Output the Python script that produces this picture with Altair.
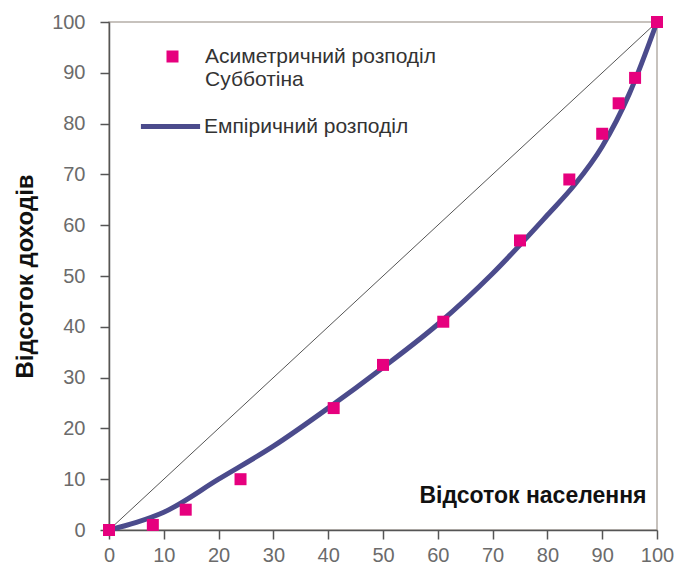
import altair as alt
import pandas as pd

# Asymmetric Subbotin distribution (points)
sub_x = [0, 8, 14, 24, 41, 50, 61, 75, 84, 90, 93, 96, 100]
sub_y = [0, 1, 4, 10, 24, 32.5, 41, 57, 69, 78, 84, 89, 100]

# Empirical distribution (line)
emp_x = [0, 5, 10, 20, 30, 40, 50, 60, 70, 80, 85, 90, 95, 100]
emp_y = [0, 1.5, 3.5, 10, 16.5, 24, 32, 40.5, 50.5, 62, 68, 75.5, 86, 100]

# Equality diagonal
diag_x = [0, 100]
diag_y = [0, 100]

ticks = [0, 10, 20, 30, 40, 50, 60, 70, 80, 90, 100]

S1 = "Асиметричний розподіл Субботіна"
S2 = "Емпіричний розподіл"

pts = pd.DataFrame({"x": sub_x, "y": sub_y, "s": S1})
emp = pd.DataFrame({"x": emp_x, "y": emp_y, "s": S2})
dg = pd.DataFrame({"x": diag_x, "y": diag_y})

xs = alt.Scale(domain=[0, 100], nice=False)
ys = alt.Scale(domain=[0, 100], nice=False)

xaxis = alt.Axis(values=ticks, grid=False, title="Відсоток населення",
                 titleX=537, titleY=-35, titleAlign="right", titleBaseline="middle",
                 titleAnchor="end", titleFontSize=23, labelFlush=False)
yaxis = alt.Axis(values=ticks, grid=False, title="Відсоток доходів", titleFontSize=24,
                 labelFlush=False)

diag = alt.Chart(dg).mark_line(color="#555555", strokeWidth=1).encode(
    x=alt.X("x:Q", scale=xs, axis=xaxis),
    y=alt.Y("y:Q", scale=ys, axis=yaxis),
)

line = alt.Chart(emp).mark_line(strokeWidth=5, interpolate="monotone").encode(
    x=alt.X("x:Q", scale=xs),
    y=alt.Y("y:Q", scale=ys),
    color=alt.Color("s:N", scale=alt.Scale(domain=[S2], range=["#4b4b8c"]),
                    legend=alt.Legend(title=None, orient="none", legendX=29, legendY=72,
                                      symbolType="stroke", symbolSize=3500,
                                      symbolStrokeWidth=5, labelFontSize=21,
                                      labelColor="#333333", labelFont="Liberation Sans",
                                      labelOffset=1, labelLimit=400)),
)

points = alt.Chart(pts).mark_square(size=144, opacity=1).encode(
    x=alt.X("x:Q", scale=xs),
    y=alt.Y("y:Q", scale=ys),
    fill=alt.Fill("s:N", scale=alt.Scale(domain=[S1], range=["#e6007e"]),
                  legend=alt.Legend(title=None, orient="none", legendX=53, legendY=24,
                                    symbolType="square", symbolSize=144,
                                    symbolStrokeWidth=0, labelFontSize=21,
                                    labelColor="#333333", labelFont="Liberation Sans",
                                    labelOffset=22, labelLimit=400,
                                    labelExpr="datum.label == '" + S1 + "' ? ['Асиметричний розподіл', 'Субботіна'] : datum.label")),
)

chart = alt.layer(diag, line, points).resolve_scale(color="independent").properties(
    width=548, height=508,
    autosize=alt.AutoSizeParams(type="none"),
    padding={"left": 101, "top": 14, "right": 17, "bottom": 38},
).configure_view(stroke="#b5aea8", strokeWidth=1.5).configure_axis(
    domainColor="#555555", domainWidth=1.5, tickColor="#555555", tickSize=9, tickWidth=1.5,
    labelFont="Liberation Sans", labelFontSize=20, labelColor="#6b6b6b",
    titleFont="Liberation Sans", titleFontWeight="bold", titleColor="#111111",
).configure_axisY(labelPadding=15, titlePadding=14).configure_axisX(labelPadding=6)

chart.save("out.html", embed_options={"renderer": "svg", "actions": False})
